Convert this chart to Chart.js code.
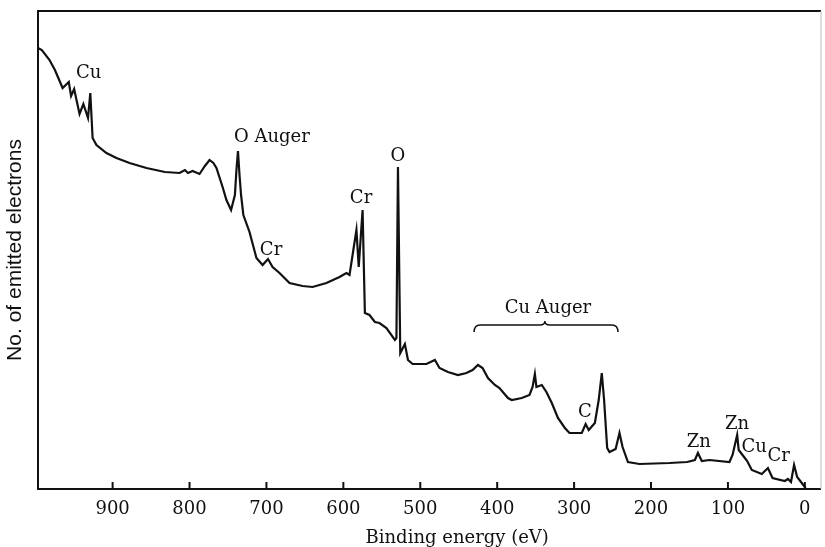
<!DOCTYPE html>
<html>
<head>
<meta charset="utf-8">
<title>Binding energy spectrum</title>
<script src="https://cdn.jsdelivr.net/npm/chart.js@4.4.1/dist/chart.umd.min.js"></script>
<style>
  html, body { margin: 0; padding: 0; background: #fff; }
  canvas { display: block; }
</style>
</head>
<body>
<canvas id="myChart" width="825" height="547"></canvas>
<script>
// binding energy (eV) and intensity (arbitrary units)
const energia = [997, 992, 982, 975, 965, 957, 954, 950, 943, 938, 932, 929, 926, 921, 908, 895, 878, 856, 832, 813,
  806, 802, 796, 787, 780, 774, 769, 765, 757, 752, 746, 741, 739, 737, 735, 733, 730, 722, 713, 705,
  698, 692, 683, 670, 653, 640, 622, 605, 596, 592, 588, 583, 580, 575, 572, 566, 559, 553, 544, 533,
  531, 529, 526, 520, 516, 510, 492, 481, 475, 464, 451, 440, 432, 425, 419, 412, 403, 397, 386, 381,
  368, 358, 354, 351, 349, 342, 336, 329, 321, 312, 306, 290, 285, 281, 273, 268, 264, 261, 257, 254,
  246, 241, 237, 230, 215, 176, 153, 143, 139, 134, 124, 98, 94, 88, 86, 81, 75, 69, 56, 48,
  42, 26, 22, 18, 14, 10, 5, -1];
const intensidad = [441, 439, 429, 419, 401, 407, 393, 400, 375, 385, 371, 396, 351, 344, 336, 331, 326, 321, 317, 316,
  319, 316, 318, 315, 323, 329, 326, 321, 302, 289, 279, 294, 319, 338, 314, 294, 274, 257, 231, 224,
  230, 222, 216, 206, 203, 202, 206, 212, 216, 214, 234, 259, 222, 279, 176, 174, 167, 166, 161, 149,
  151, 322, 136, 145, 129, 125, 125, 129, 121, 117, 114, 116, 119, 124, 121, 111, 104, 101, 91, 89,
  91, 94, 102, 115, 102, 104, 97, 86, 71, 61, 56, 56, 65, 59, 66, 89, 116, 89, 41, 37,
  40, 56, 42, 27, 25, 26, 27, 29, 36, 28, 29, 27, 34, 54, 39, 34, 28, 19, 15, 21,
  11, 8, 10, 7, 24, 12, 7, 1];
const marcasX = [0, 100, 200, 300, 400, 500, 600, 700, 800, 900];

// peak labels: text, energy, intensity of baseline
const etiquetas = [
  {texto: 'Cu', e: 931, i: 411},
  {texto: 'O Auger', e: 693, i: 347},
  {texto: 'O', e: 529, i: 328},
  {texto: 'Cr', e: 577, i: 286},
  {texto: 'Cr', e: 694, i: 234},
  {texto: 'Cu Auger', e: 334, i: 176},
  {texto: 'C', e: 286, i: 72},
  {texto: 'Zn', e: 138, i: 42},
  {texto: 'Zn', e: 88, i: 60},
  {texto: 'Cu', e: 66, i: 37},
  {texto: 'Cr', e: 34, i: 28}
];
// brace over the Cu Auger region
const llave = {desde: 430, hasta: 243, centro: 338, i: 164};

const puntos = energia.map((e, k) => ({x: e, y: intensidad[k]}));

const dibujarExtras = {
  id: 'dibujarExtras',
  afterDraw(chart) {
    const ctx = chart.ctx;
    const a = chart.chartArea;
    const sx = chart.scales.x, sy = chart.scales.y;
    ctx.save();
    // frame
    ctx.strokeStyle = '#111';
    ctx.lineWidth = 2;
    ctx.beginPath();
    ctx.moveTo(a.right, a.top);
    ctx.lineTo(a.left, a.top);
    ctx.lineTo(a.left, a.bottom);
    ctx.lineTo(a.right, a.bottom);
    ctx.stroke();
    ctx.strokeStyle = '#bbb';
    ctx.lineWidth = 1;
    ctx.beginPath();
    ctx.moveTo(a.right, a.top);
    ctx.lineTo(a.right, a.bottom);
    ctx.stroke();
    // tick marks pointing inwards
    ctx.strokeStyle = '#111';
    ctx.lineWidth = 2;
    sx.ticks.forEach(t => {
      const px = sx.getPixelForValue(t.value);
      ctx.beginPath();
      ctx.moveTo(px, a.bottom);
      ctx.lineTo(px, a.bottom - 7);
      ctx.stroke();
    });
    // labels
    ctx.fillStyle = '#111';
    ctx.font = '18px "DejaVu Serif"';
    ctx.textAlign = 'center';
    ctx.textBaseline = 'alphabetic';
    etiquetas.forEach(l => {
      ctx.fillText(l.texto, sx.getPixelForValue(l.e), sy.getPixelForValue(l.i));
    });
    // brace
    const x1 = sx.getPixelForValue(llave.desde), x2 = sx.getPixelForValue(llave.hasta);
    const xc = sx.getPixelForValue(llave.centro), yb = sy.getPixelForValue(llave.i);
    ctx.lineWidth = 1.5;
    ctx.beginPath();
    ctx.moveTo(x1, yb + 7);
    ctx.quadraticCurveTo(x1, yb, x1 + 6, yb);
    ctx.lineTo(xc - 5, yb);
    ctx.quadraticCurveTo(xc, yb, xc, yb - 4);
    ctx.quadraticCurveTo(xc, yb, xc + 5, yb);
    ctx.lineTo(x2 - 6, yb);
    ctx.quadraticCurveTo(x2, yb, x2, yb + 7);
    ctx.stroke();
    // x axis title
    ctx.font = '18px "DejaVu Serif"';
    ctx.fillText('Binding energy (eV)', sx.getPixelForValue(452), 543);
    ctx.restore();
  }
};

const ctx = document.getElementById('myChart').getContext('2d');
new Chart(ctx, {
  type: 'line',
  data: {
    datasets: [{
      data: puntos,
      borderColor: '#111',
      borderWidth: 2.2,
      pointRadius: 0,
      tension: 0,
      fill: false
    }]
  },
  options: {
    responsive: false,
    animation: false,
    layout: {padding: {left: 0, right: 4, top: 11, bottom: 0}},
    plugins: {legend: {display: false}, tooltip: {enabled: false}},
    scales: {
      x: {
        type: 'linear',
        reverse: true,
        min: -21,
        max: 997,
        grid: {display: false, drawTicks: false},
        border: {display: false},
        ticks: {font: {family: 'DejaVu Serif', size: 18}, color: '#111', padding: 10, maxRotation: 0},
        afterBuildTicks: s => { s.ticks = marcasX.map(v => ({value: v})); },
        afterFit: s => { s.height = 58; }
      },
      y: {
        min: 0,
        max: 478,
        grid: {display: false},
        border: {display: false},
        ticks: {display: false},
        title: {display: true, text: 'No. of emitted electrons', font: {family: 'Liberation Sans', size: 21}, color: '#111', padding: {top: 3, bottom: 0}},
        afterFit: s => { s.width = 38; }
      }
    }
  },
  plugins: [dibujarExtras]
});
</script>
</body>
</html>
